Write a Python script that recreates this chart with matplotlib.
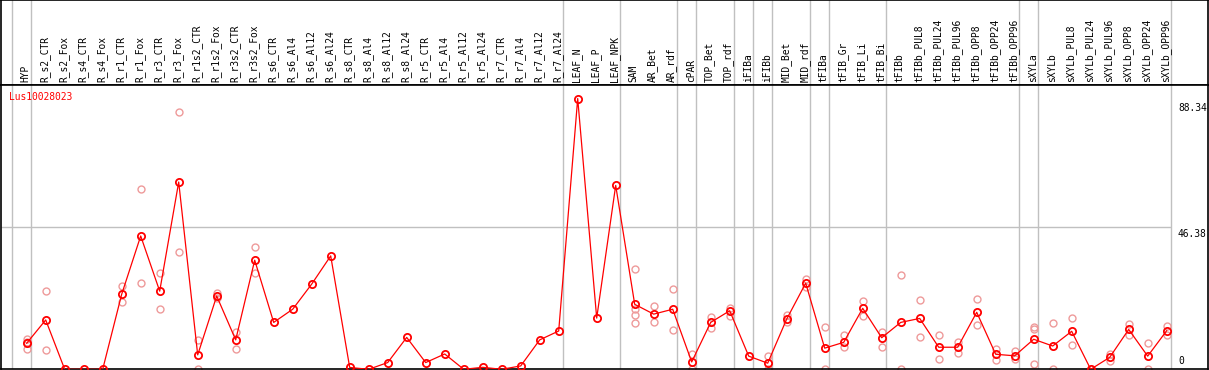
import matplotlib
matplotlib.use("Agg")
import matplotlib.pyplot as plt

# sample labels, in plotting order
labels = [
    "HYP", "R_s2_CTR", "R_s2_Fox", "R_s4_CTR", "R_s4_Fox", "R_r1_CTR", "R_r1_Fox",
    "R_r3_CTR", "R_r3_Fox", "R_r1s2_CTR", "R_r1s2_Fox", "R_r3s2_CTR", "R_r3s2_Fox",
    "R_s6_CTR", "R_s6_Al4", "R_s6_Al12", "R_s6_Al24", "R_s8_CTR", "R_s8_Al4",
    "R_s8_Al12", "R_s8_Al24", "R_r5_CTR", "R_r5_Al4", "R_r5_Al12", "R_r5_Al24",
    "R_r7_CTR", "R_r7_Al4", "R_r7_Al12", "R_r7_Al24", "LEAF_N", "LEAF_P", "LEAF_NPK",
    "SAM", "AR_Bet", "AR_rdf", "cPAR", "TOP_Bet", "TOP_rdf", "iFIBa", "iFIBb",
    "MID_Bet", "MID_rdf", "tFIBa", "tFIB_Gr", "tFIB_Li", "tFIB_Bi", "tFIBb",
    "tFIBb_PUL8", "tFIBb_PUL24", "tFIBb_PUL96", "tFIBb_OPP8", "tFIBb_OPP24", "tFIBb_OPP96",
    "sXYLa", "sXYLb", "sXYLb_PUL8", "sXYLb_PUL24", "sXYLb_PUL96", "sXYLb_OPP8",
    "sXYLb_OPP24", "sXYLb_OPP96",
]

# mean expression per sample
means = [
    8.5, 16.1, 0, 0, 0, 24.5, 43.5, 25.5, 61.1, 4.7, 23.9, 9.6, 35.6,
    15.3, 19.6, 27.8, 37.0, 0.6, 0, 2.2, 10.4, 2.2, 5.0, 0, 0.65, 0, 1.1, 9.6, 12.5,
    88.34, 16.7, 60.0, 21.2, 18.0, 19.6, 2.4, 15.3, 19.1, 4.3, 2.0, 16.4, 28.1,
    6.9, 8.8, 19.9, 10.3, 15.3, 16.6, 7.2, 7.2, 18.6, 4.9, 4.4,
    9.8, 7.6, 12.4, 0, 3.9, 13.0, 4.3, 12.6,
]

# individual replicates (only those visible apart from the mean)
replicates = {
    0: [9.8, 6.7, 9.0], 1: [25.5, 6.3], 5: [27.2, 21.9], 6: [58.7, 28.2],
    7: [31.3, 19.6], 8: [83.8, 38.2], 9: [9.6, 0], 10: [24.8, 23.2],
    11: [12.2, 6.5], 12: [39.8, 31.3],
    32: [32.6, 19.8, 17.6, 15.0], 33: [20.7, 15.4], 34: [26.1, 12.8], 35: [5.0, 0],
    36: [17.0, 13.6], 37: [20.1, 17.5], 39: [4.3, 0], 40: [17.6, 15.3],
    41: [29.4, 27.0], 42: [13.9, 0], 43: [11.1, 7.2], 44: [22.3, 17.3],
    45: [12.2, 7.2], 46: [30.7, 0], 47: [22.5, 10.4], 48: [11.1, 3.3],
    49: [8.9, 5.4], 50: [22.8, 14.4], 51: [6.7, 3.0], 52: [5.9, 3.5],
    53: [13.9, 13.2, 1.7], 54: [15.0, 0], 55: [16.6, 8.0], 57: [5.0, 2.8],
    58: [14.8, 11.1], 59: [8.7, 0], 60: [14.1, 11.1],
}

# index of last sample in each group (separator drawn right after it)
group_ends = [-1, 0, 28, 31, 34, 35, 37, 38, 39, 41, 42, 45, 52, 53, 60]

gene = "Lus10028023"
y_max_value = 88.34
y_mid_value = 46.38

W, H = 1209, 370
header_px = 85
bottom_px = 369.3
left_px, right_px = 1, 1208
x0_px, pitch_px = 26.7, 19.0

fig = plt.figure(figsize=(W / 100, H / 100), dpi=100)
xl = ((left_px - x0_px) / pitch_px, (right_px - x0_px) / pitch_px)

ax_head = fig.add_axes([left_px / W, (H - header_px) / H, (right_px - left_px) / W, header_px / H])
ax = fig.add_axes([left_px / W, (H - bottom_px) / H, (right_px - left_px) / W, (bottom_px - header_px) / H])

for a in (ax_head, ax):
    a.set_xlim(*xl)
    a.set_xticks([])
    a.set_yticks([])
    for s in a.spines.values():
        s.set_color("black")
        s.set_linewidth(1.2)
    for g in group_ends:
        a.axvline(g + 0.2, color="#c0c0c0", lw=1.0, zorder=0)

ax_head.set_ylim(0, 1)
mono = "DejaVu Sans Mono"
fs = 6.9
for i, lab in enumerate(labels):
    ax_head.text(i - 0.05, 0.03, lab, rotation=90, ha="center", va="bottom",
                 fontsize=fs, family=mono)

ax.set_ylim(0, y_max_value * 1.05)
ax.hlines(y_mid_value, xl[0], group_ends[-1] + 0.2, color="#c0c0c0", lw=1.0, zorder=0)

faint = "#ee9a9a"
for i, vals in replicates.items():
    ax.plot([i] * len(vals), vals, linestyle="none", marker="o", markersize=5,
            markerfacecolor="none", markeredgecolor=faint, markeredgewidth=1.0, zorder=2)

ax.plot(range(len(means)), means, color="red", lw=0.9, marker="o", markersize=5.2,
        markerfacecolor="none", markeredgecolor="red", markeredgewidth=1.3, zorder=3)

ylab_x = (1178 - x0_px) / pitch_px
ax.text(ylab_x, 86.9, f"{y_max_value:.2f}", ha="left", va="top", fontsize=fs, family=mono)
ax.text(ylab_x, 45.8, f"{y_mid_value:.2f}", ha="left", va="top", fontsize=fs, family=mono)
ax.text(ylab_x, 1.0, "0", ha="left", va="bottom", fontsize=fs, family=mono)

ax.text((9.3 - x0_px) / pitch_px, 88.8, gene, color="red", ha="left", va="center",
        fontsize=fs, family=mono)

fig.savefig("out.png", dpi=100)
